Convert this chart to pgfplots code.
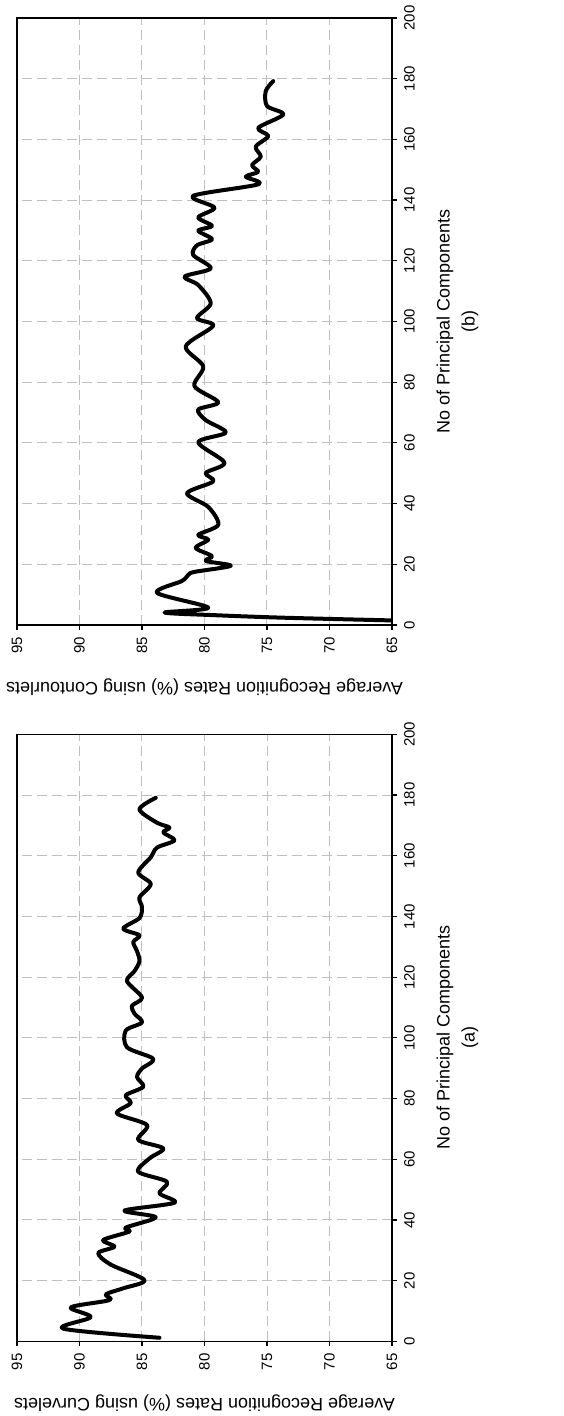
\documentclass[border=0pt]{standalone}
\usepackage{fontspec}
\setmainfont{Liberation Sans}
\usepackage{pgfplots}
\pgfplotsset{compat=1.18}
\pgfplotsset{
  panel/.style={
    scale only axis, width=187.5pt, height=303.5pt,
    x dir=reverse, xmin=65, xmax=95, ymin=0, ymax=200,
    xtick={65,70,...,95}, ytick={0,20,...,200},
    xtick pos=left, ytick pos=right, yticklabel pos=right,
    tick align=outside, major tick length=2.5pt,
    every tick/.style={black, line width=0.6pt},
    axis line style={black, line width=0.8pt},
    grid=major,
    major grid style={color=black!25, dash pattern=on 5pt off 2.5pt, line width=0.5pt},
    /pgf/number format/assume math mode=true,
    ticklabel style={font=\fontsize{7.5}{9}\selectfont},
    xticklabel style={rotate=90, anchor=east},
    yticklabel style={rotate=90, anchor=north},
    every axis x label/.style={at={(axis description cs:0.5,0)}, anchor=center, yshift=-31pt, rotate=180, font=\fontsize{9}{11}\selectfont},
    every axis y label/.style={at={(axis description cs:1,0.5)}, anchor=center, xshift=32.75pt, rotate=90, align=center, font=\fontsize{9}{12.5}\selectfont},
  },
  curve/.style={black, line width=2pt, smooth, tension=0.5, line join=round, line cap=round},
}
\begin{document}
\begin{tikzpicture}
\useasboundingbox (0,0) rectangle (281.5pt,708pt);
% (a) Curvelets
\begin{axis}[panel, at={(8.5pt,37.3pt)}, anchor=south west,
  xlabel={Average Recognition Rates (\%) using Curvelets},
  ylabel={No of Principal Components\\(a)}]
\addplot[curve] coordinates {
(83.6,1.2) (91.3,4.2) (89.1,8.0) (90.7,11.2) (87.6,13.6) (87.9,15.5) (86.5,17.5) (84.8,20.2)
(87.5,25.3) (88.5,29.1) (87.2,31.2) (88.1,33.4) (86.0,36.2) (86.3,37.5) (83.9,40.9) (86.4,43.1)
(82.4,45.7) (83.6,48.8) (83.0,52.6) (85.3,55.9) (84.4,60.3) (83.3,63.6) (85.3,66.4) (84.6,71.3)
(87.0,75.1) (85.9,78.5) (86.3,81.1) (84.9,83.9) (85.4,87.1) (85.0,89.9) (84.1,93.1) (86.2,96.9)
(86.3,102.4) (85.0,105.1) (85.6,108) (85.8,110.6) (85.0,113.3) (86.2,118.7) (85.6,122) (85.2,125.3)
(85.4,128.6) (85.7,131.6) (85.2,133.8) (86.5,136.0) (85.2,139.5) (85.0,143.1) (85.2,146.3) (84.3,150.7)
(85.3,154.5) (84.3,159.5) (83.8,162.7) (82.4,165.1) (83.3,167.7) (82.8,169.3) (83.8,170.9) (85.2,175.3) (83.9,179.1)
};
\end{axis}
% (b) Contourlets
\begin{axis}[panel, at={(8.5pt,395.5pt)}, anchor=south west,
  xlabel={Average Recognition Rates (\%) using Contourlets},
  ylabel={No of Principal Components\\(b)}]
\addplot[curve] coordinates {
(65,1.5) (73.7,2.4) (79.0,3.2) (83.2,4.1) (79.7,5.7) (83.8,10.6) (81.8,14.5) (81.3,16.5) (80.8,17.5)
(77.9,19.5) (79.9,21.1) (79.4,22.7) (80.7,25.4) (79.7,28.1) (80.5,29.7) (78.9,33.0) (79.7,38.9)
(81.4,43.4) (79.3,47.3) (79.9,50.1) (78.4,53.5) (80.5,60.2) (78.3,63.4) (79.9,67.5) (80.5,71.0)
(78.9,73.4) (80.8,78.7) (80.1,85.2) (81.5,91.8) (79.3,98.6) (80.6,101.1) (79.5,106.0) (80.5,112.0)
(81.6,114.8) (79.5,117.5) (80.9,121.9) (80.6,125.1) (79.4,127.1) (80.5,129.9) (79.4,131.5) (80.5,134.3)
(79.2,137.5) (80.9,141.4) (75.7,145.2) (76.7,147.7) (75.7,149.3) (76.2,151.5) (75.5,154.3) (75.9,157.6)
(74.9,161.1) (75.7,163.8) (73.7,168.2) (75.0,171) (75.1,175.9) (74.5,179.2)
};
\end{axis}
\end{tikzpicture}
\end{document}
